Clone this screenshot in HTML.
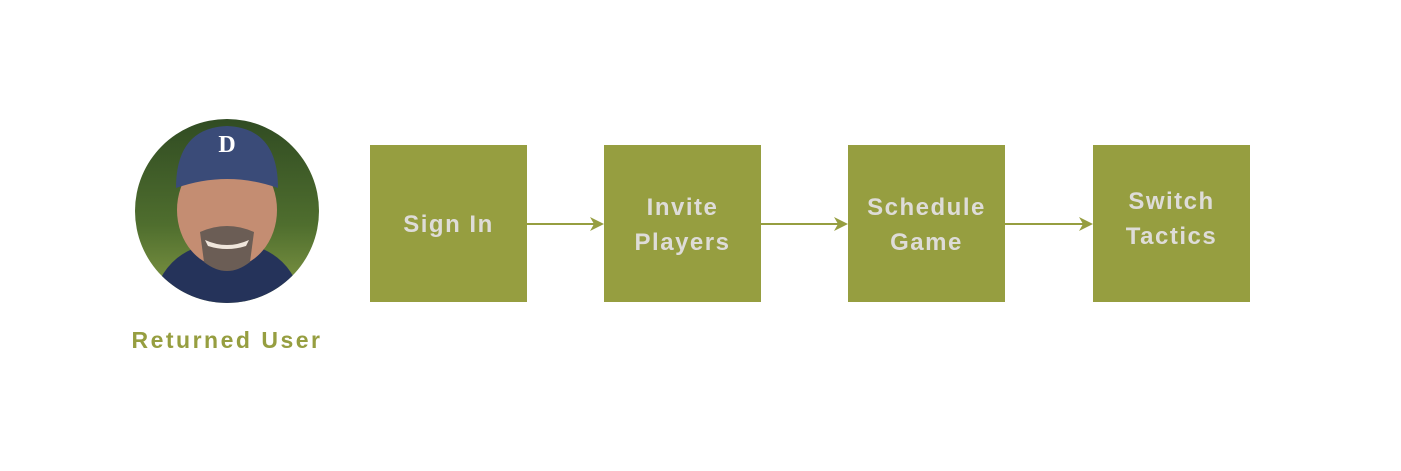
<!DOCTYPE html>
<html><head><meta charset="utf-8"><style>
html,body{margin:0;padding:0;background:#fff;}
body{width:1401px;height:471px;position:relative;overflow:hidden;font-family:"Liberation Sans",sans-serif;}
.box{position:absolute;top:145px;width:157px;height:157px;background:#969e40;color:#dedcd8;display:flex;align-items:center;justify-content:center;text-align:center;font-size:24px;font-weight:bold;letter-spacing:1.5px;line-height:35px;box-sizing:border-box;padding-top:2px;}
.lbl{position:absolute;left:110px;top:327px;width:234px;text-align:center;color:#969e40;font-size:23px;font-weight:bold;letter-spacing:2.5px;}
</style></head><body>
<svg width="1401" height="471" style="position:absolute;left:0;top:0">
<defs>
<clipPath id="c"><circle cx="227" cy="211" r="92"/></clipPath>
<linearGradient id="bg" x1="0" y1="0" x2="0" y2="1"><stop offset="0" stop-color="#2f4a22"/><stop offset="0.55" stop-color="#4f6e2e"/><stop offset="1" stop-color="#8ea24a"/></linearGradient>
</defs>
<g clip-path="url(#c)">
<rect x="130" y="115" width="200" height="200" fill="url(#bg)"/>
<path d="M150 310 Q160 255 205 245 L250 245 Q295 255 305 310 Z" fill="#25335a"/>
<ellipse cx="227" cy="210" rx="50" ry="58" fill="#c48d72"/>
<path d="M200 232 Q227 220 254 232 L250 262 Q227 280 204 262 Z" fill="#6b5d55"/>
<path d="M205 240 Q227 250 249 240 L246 246 Q227 252 208 246Z" fill="#f0e6dc"/>
<path d="M176 188 Q176 128 227 126 Q278 128 278 188 Q227 170 176 188 Z" fill="#3a4b78"/>
<text x="227" y="152" font-family="Liberation Serif" font-weight="bold" font-size="24" fill="#fff" text-anchor="middle">D</text>
</g>
<g stroke="#969e40" stroke-width="2" fill="#969e40">
<line x1="527" y1="224" x2="598" y2="224"/><path d="M590 217 L604 224 L590 231 L594 224Z" stroke="none"/>
<line x1="761" y1="224" x2="842" y2="224"/><path d="M834 217 L848 224 L834 231 L838 224Z" stroke="none"/>
<line x1="1005" y1="224" x2="1087" y2="224"/><path d="M1079 217 L1093 224 L1079 231 L1083 224Z" stroke="none"/>
</g>
</svg>
<div class="box" style="left:370px">Sign In</div>
<div class="box" style="left:604px">Invite<br>Players</div>
<div class="box" style="left:848px">Schedule<br>Game</div>
<div class="box" style="left:1093px;padding-top:0;padding-bottom:10px">Switch<br>Tactics</div>
<div class="lbl">Returned User</div>
</body></html>
